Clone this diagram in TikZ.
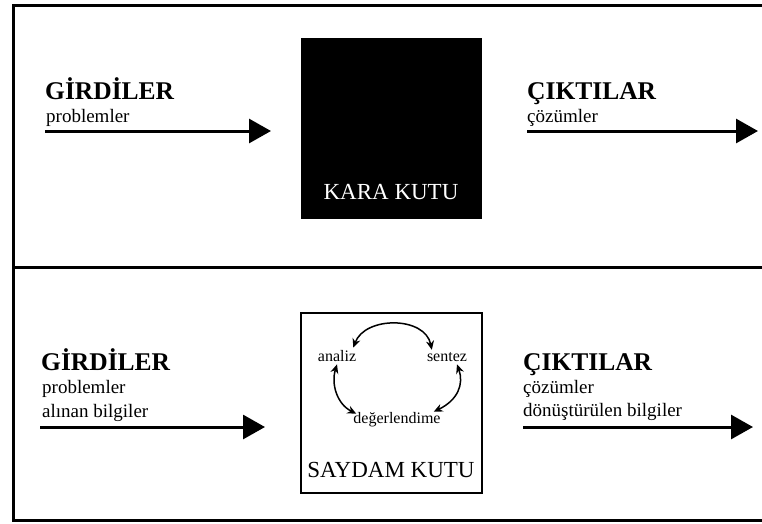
\documentclass[tikz,border=0pt]{standalone}
\usepackage{fontspec}
\setmainfont{Liberation Serif}
\usetikzlibrary{arrows.meta}

\tikzset{
  frame/.style={line width=3pt},
  head/.style={font=\fontsize{25.5}{28}\selectfont\bfseries, inner sep=0pt, anchor=base west},
  sub/.style={font=\fontsize{19}{22}\selectfont, inner sep=0pt, anchor=base west},
  flow/.style={line width=3pt, -{Triangle[length=22pt,width=24pt]}},
  boxlabel/.style={font=\fontsize{23}{27}\selectfont, inner sep=0pt, anchor=base},
  phase/.style={font=\fontsize{16}{19}\selectfont, inner sep=1pt, anchor=base},
  cycle/.style={line width=1.5pt, {Stealth[length=9pt,width=8pt]}-{Stealth[length=9pt,width=8pt]}}
}

\begin{document}
\begin{tikzpicture}[x=1pt,y=-1pt]
  \useasboundingbox (0,0) rectangle (762,523);
  \fill[white] (0,0) rectangle (762,523);

  % outer frame, open on the right, with the divider between the two panels
  \draw[frame] (762,5.5) -- (13,5.5) -- (13,520) -- (762,520);
  \draw[frame] (13,267) -- (762,267);

  % ---- upper panel: black box ----
  \node[head] (in1) at (45,99) {GİRDİLER};
  \node[sub] (in1a) at (46,122) {problemler};
  \coordinate (in1s) at (45,131);
  \coordinate (in1e) at (271,131);
  \draw[flow] (in1s) -- (in1e);

  \node[fill=black, minimum width=181pt, minimum height=181pt, inner sep=0pt] (kara) at (391.5,128.5) {};
  \node[boxlabel, text=white] (karat) at (391,199) {KARA KUTU};

  \node[head] (out1) at (527,99) {ÇIKTILAR};
  \node[sub] (out1a) at (527,122) {çözümler};
  \coordinate (out1s) at (527,131);
  \coordinate (out1e) at (758,131);
  \draw[flow] (out1s) -- (out1e);

  % ---- lower panel: transparent box ----
  \node[head] (in2) at (41,370) {GİRDİLER};
  \node[sub] (in2a) at (42,393) {problemler};
  \node[sub] (in2b) at (42,417) {alınan bilgiler};
  \coordinate (in2s) at (40,427);
  \coordinate (in2e) at (265,427);
  \draw[flow] (in2s) -- (in2e);

  \node[draw, line width=1.3pt, minimum width=181pt, minimum height=180pt, inner sep=0pt] (saydam) at (391.5,403) {};
  \node[boxlabel] (saydamt) at (391,477) {SAYDAM KUTU};

  \node[phase] (analiz) at (337,361) {analiz};
  \node[phase] (sentez) at (447,361) {sentez};
  \node[phase] (deger) at (397,423) {değerlendime};

  \draw[cycle] (analiz.north east) ++(-4,-1) coordinate (a1)
               (sentez.north west) ++(6,-1) coordinate (s1)
               (a1) .. controls (365,316) and (425,316) .. (s1);
  \draw[cycle] (analiz.south) ++(0,2) coordinate (a2)
               (deger.north west) ++(4,3) coordinate (d2)
               (a2) .. controls (331,384) and (337,404) .. (d2);
  \draw[cycle] (sentez.south) ++(10,2) coordinate (s3)
               (deger.north east) ++(-8,1) coordinate (d3)
               (s3) .. controls (464,384) and (458,400) .. (d3);

  \node[head] (out2) at (523,370) {ÇIKTILAR};
  \node[sub] (out2a) at (523,393) {çözümler};
  \node[sub] (out2b) at (523,416) {dönüştürülen bilgiler};
  \coordinate (out2s) at (523,427);
  \coordinate (out2e) at (753,427);
  \draw[flow] (out2s) -- (out2e);
\end{tikzpicture}
\end{document}
